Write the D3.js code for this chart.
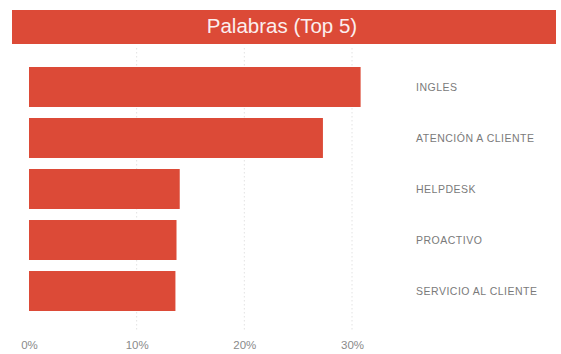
<!DOCTYPE html>
<html>
<head>
<meta charset="utf-8">
<script src="https://cdn.jsdelivr.net/npm/d3@7"></script>
<style>
  html, body { margin: 0; padding: 0; background: #fff; }
  svg { display: block; }
</style>
</head>
<body>
<svg id="chart" width="561" height="354"></svg>
<script>
// Top-5 keywords and their share
const categories = ["INGLES", "ATENCIÓN A CLIENTE", "HELPDESK", "PROACTIVO", "SERVICIO AL CLIENTE"];
const shares = [0.308, 0.273, 0.140, 0.137, 0.136];
const tickValues = [0, 0.1, 0.2, 0.3];
const title = "Palabras (Top 5)";

const red = "#dc4a37";
const font = "Liberation Sans, Arial, sans-serif";
const svg = d3.select("#chart");

// Title banner
svg.append("rect")
  .attr("x", 12).attr("y", 10).attr("width", 544).attr("height", 34)
  .attr("fill", red);
svg.append("text")
  .attr("x", 282).attr("y", 25)
  .attr("text-anchor", "middle").attr("dominant-baseline", "central")
  .attr("font-family", font)
  .attr("font-size", 20.5)
  .attr("fill", "#fbeeee")
  .text(title);

// Scales
const x = d3.scaleLinear().domain([0, 0.3]).range([29, 352]);
const y = d3.scaleBand().domain(categories).range([67, 311]).paddingInner(0.216).paddingOuter(0);

// Dotted gridlines
svg.append("g").selectAll("line")
  .data(tickValues.filter(d => d > 0))
  .join("line")
  .attr("x1", d => x(d)).attr("x2", d => x(d))
  .attr("y1", 48).attr("y2", 330)
  .attr("stroke", "#e2e2e2").attr("stroke-width", 1)
  .attr("stroke-dasharray", "1.5,2.5");

// Bars
svg.append("g").selectAll("rect")
  .data(categories)
  .join("rect")
  .attr("x", x(0))
  .attr("y", d => y(d))
  .attr("width", (d, i) => x(shares[i]) - x(0))
  .attr("height", y.bandwidth())
  .attr("fill", red);

// Category labels on the right
svg.append("g").selectAll("text")
  .data(categories)
  .join("text")
  .attr("x", 416)
  .attr("y", d => y(d) + y.bandwidth() / 2)
  .attr("dominant-baseline", "central")
  .attr("font-family", font)
  .attr("font-size", 10.5)
  .attr("letter-spacing", 0.5)
  .attr("fill", "#7a7a7a")
  .text(d => d);

// Bottom axis
const axis = d3.axisBottom(x)
  .tickValues(tickValues)
  .tickFormat(d3.format(".0%"))
  .tickSize(0).tickPadding(0);
const gx = svg.append("g").attr("transform", "translate(0,341)").call(axis);
gx.select(".domain").remove();
gx.selectAll("text")
  .attr("font-family", font)
  .attr("font-size", 11.5)
  .attr("fill", "#8a8a8a");
</script>
</body>
</html>
